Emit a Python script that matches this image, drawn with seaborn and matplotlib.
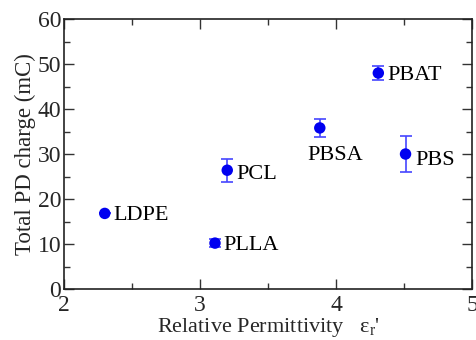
import matplotlib
matplotlib.use("Agg")
import matplotlib.pyplot as plt
import seaborn as sns
import pandas as pd
from matplotlib.ticker import MultipleLocator

materials = ["LDPE", "PLLA", "PCL", "PBSA", "PBAT", "PBS"]
permittivity = [2.30, 3.11, 3.20, 3.88, 4.31, 4.51]
charge = [16.8, 10.2, 26.4, 35.8, 48.0, 30.0]
charge_err = [0.0, 0.9, 2.6, 2.0, 1.6, 3.9]

df = pd.DataFrame({"material": materials, "eps": permittivity,
                   "charge": charge, "err": charge_err})

sns.set_style("ticks")
plt.rcParams['font.family'] = ['Liberation Serif', 'DejaVu Serif']
plt.rcParams['mathtext.fontset'] = 'custom'
plt.rcParams['mathtext.rm'] = 'Liberation Serif'
plt.rcParams['mathtext.it'] = 'Liberation Serif:italic'

fig, ax = plt.subplots(figsize=(4.77, 3.40), dpi=100)
fig.subplots_adjust(left=0.134, right=0.990, top=0.944, bottom=0.150)

ax.errorbar(df["eps"], df["charge"], yerr=df["err"], fmt="none",
            ecolor="#4646ff", elinewidth=1.2, capsize=4.6, capthick=1.2, zorder=2)
sns.scatterplot(data=df, x="eps", y="charge", ax=ax, color="#0000f0",
                s=68, edgecolor="none", zorder=3, legend=False)

offsets = {"LDPE": (0.065, 0, "left"),
           "PLLA": (0.065, 0.1, "left"),
           "PCL": (0.065, -0.4, "left"),
           "PBSA": (0.11, -5.6, "center"),
           "PBAT": (0.065, 0, "left"),
           "PBS": (0.075, -0.9, "left")}
for m, x, y in zip(materials, permittivity, charge):
    dx, dy, ha = offsets[m]
    ax.text(x + dx, y + dy, m, fontsize=16, ha=ha, va="center_baseline",
            color="black")

ax.set_xlim(2, 5)
ax.set_ylim(0, 60)
ax.xaxis.set_major_locator(MultipleLocator(1))
ax.xaxis.set_minor_locator(MultipleLocator(0.5))
ax.yaxis.set_major_locator(MultipleLocator(10))
ax.yaxis.set_minor_locator(MultipleLocator(5))
ax.tick_params(which="both", direction="in", top=True, right=True,
               labelsize=17, width=1.0, color="#333333")
ax.tick_params(which="major", length=7)
ax.tick_params(which="minor", length=4)
ax.tick_params(axis="x", pad=4)
ax.tick_params(axis="y", pad=2)
for s in ax.spines.values():
    s.set_linewidth(1.2)
    s.set_color("#222222")

ax.set_xlabel("Relative Permittivity   ε$_\\mathrm{r}$'", fontsize=16, labelpad=0)
ax.set_ylabel("Total PD charge (mC)", fontsize=16.5, labelpad=1)

fig.savefig("out.png", dpi=100)
